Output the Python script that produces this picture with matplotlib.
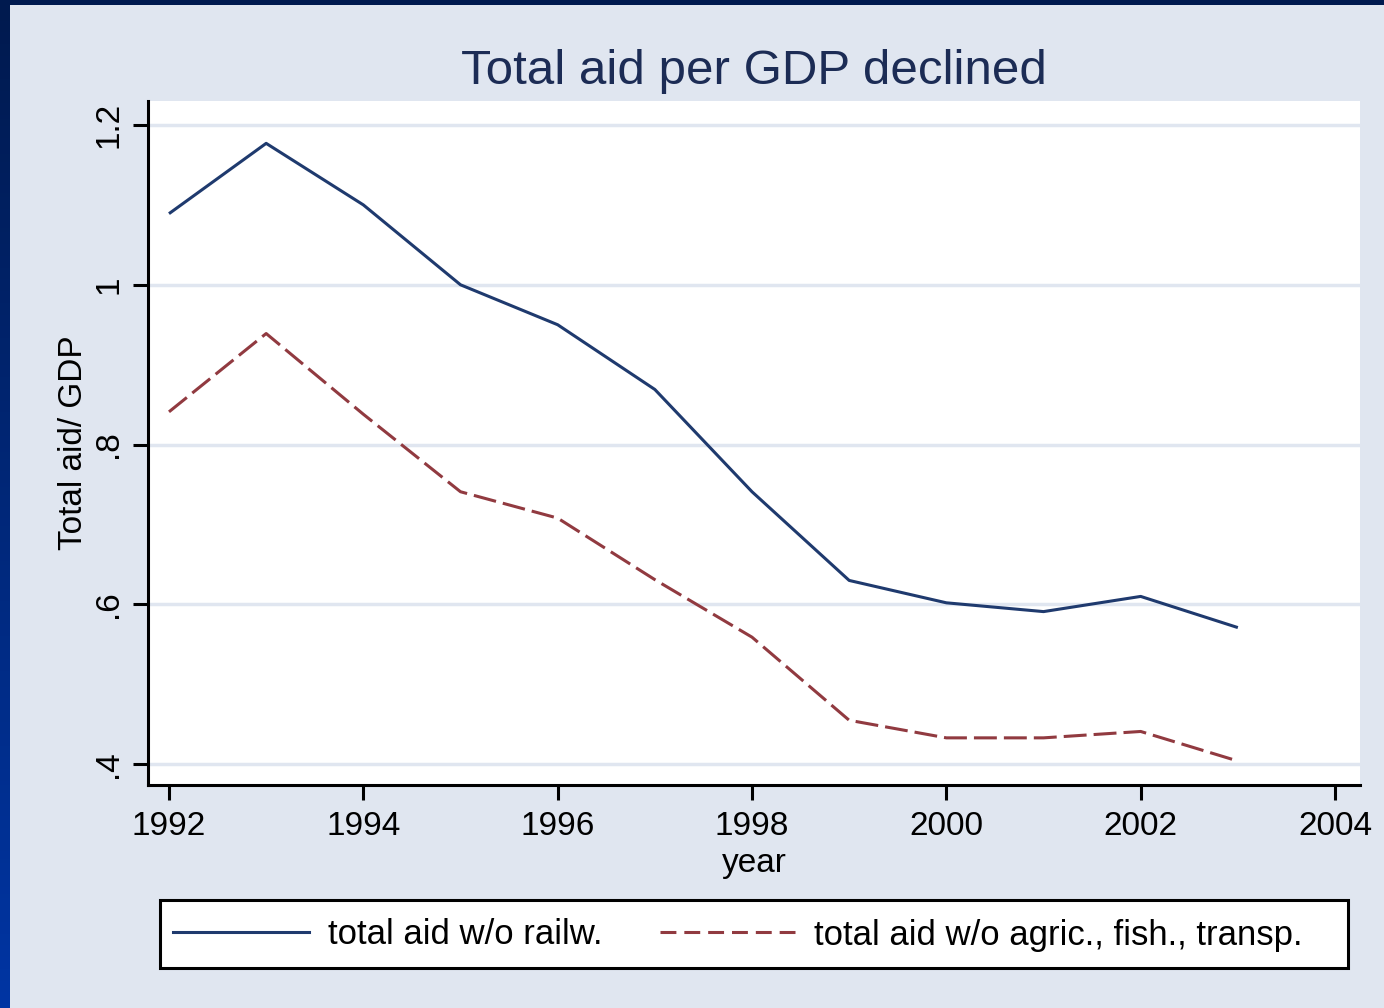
import numpy as np
import matplotlib
matplotlib.use("Agg")
from matplotlib import pyplot as plt
from matplotlib.patches import Rectangle
from matplotlib.lines import Line2D
from matplotlib.colors import LinearSegmentedColormap

# Data
years = [1992, 1993, 1994, 1995, 1996, 1997, 1998, 1999, 2000, 2001, 2002, 2003]
aidNoRail = [1.089, 1.177, 1.100, 1.000, 0.950, 0.869, 0.741, 0.630, 0.602, 0.591, 0.610, 0.571]
aidNoAgric = [0.841, 0.939, 0.838, 0.741, 0.708, 0.631, 0.559, 0.455, 0.433, 0.433, 0.441, 0.404]

xTicks = [1992, 1994, 1996, 1998, 2000, 2002, 2004]
yTicks = [0.4, 0.6, 0.8, 1.0, 1.2]
yTickLabels = [".4", ".6", ".8", "1", "1.2"]
labels = ["total aid w/o railw.", "total aid w/o agric., fish., transp."]

bg = "#e0e6f0"
navy = "#1f3a6e"
maroon = "#913a40"

plt.rcParams['font.family'] = ['Liberation Sans', 'DejaVu Sans']

fig = plt.figure(figsize=(13.84, 10.08), dpi=100, facecolor=bg)

# frame of the slide: dark top band and gradient left band
fig.patches.append(Rectangle((0, 1 - 5 / 1008), 1, 5 / 1008, transform=fig.transFigure,
                             facecolor="#001a4f", edgecolor="none", zorder=0))
gax = fig.add_axes([0, 0, 10 / 1384, 1 - 5 / 1008])
grad = np.linspace(0, 1, 256).reshape(-1, 1)
cmap = LinearSegmentedColormap.from_list("edge", ["#0035a3", "#001a4f"])
gax.imshow(grad, aspect="auto", cmap=cmap, origin="lower")
gax.set_axis_off()

ax = fig.add_axes([148 / 1384, 223 / 1008, 1212 / 1384, 684 / 1008])
ax.set_facecolor("white")

ax.plot(years, aidNoRail, color=navy, lw=2.2, solid_capstyle="butt")
ax.plot(years, aidNoAgric, color=maroon, lw=2.2, dashes=(7.5, 2.3))

ax.set_xlim(1991.784, 2004.257)
ax.set_ylim(0.374, 1.23)

ax.set_yticks(yTicks)
ax.set_yticklabels(yTickLabels, rotation=90, va="center")
ax.set_xticks(xTicks)

for y in yTicks:
    ax.axhline(y, color=bg, lw=2.5, zorder=0.5)

for s in ["top", "right"]:
    ax.spines[s].set_visible(False)
for s in ["left", "bottom"]:
    ax.spines[s].set_linewidth(2.2)
    ax.spines[s].set_color("black")

ax.tick_params(axis="both", direction="out", length=11, width=2.2, labelsize=24)
ax.tick_params(axis="x", pad=8)
ax.tick_params(axis="y", pad=6)

ax.set_xlabel("year", fontsize=24, labelpad=4)
ax.set_ylabel("Total aid/ GDP", fontsize=24, labelpad=3)
ax.set_title("Total aid per GDP declined", fontsize=35.5, color="#1c2c55", pad=12)

# legend box drawn separately so its size matches the original
fig.patches.append(Rectangle((160 / 1384, 40 / 1008), 1188 / 1384, 68 / 1008,
                             transform=fig.transFigure, facecolor="white",
                             edgecolor="black", lw=2.2, zorder=1))
handles = [Line2D([], [], color=navy, lw=2.2),
           Line2D([], [], color=maroon, lw=2.2, dashes=(5.2, 2.6))]
leg = fig.legend(handles, labels, loc="center left", ncol=2,
                 bbox_to_anchor=(170 / 1384, 73 / 1008),
                 fontsize=25, handlelength=3.9, handletextpad=0.55, columnspacing=1.65,
                 frameon=False, borderaxespad=0, borderpad=0.1)
leg.set_zorder(2)

fig.savefig("out.png", dpi=100, facecolor=bg)
